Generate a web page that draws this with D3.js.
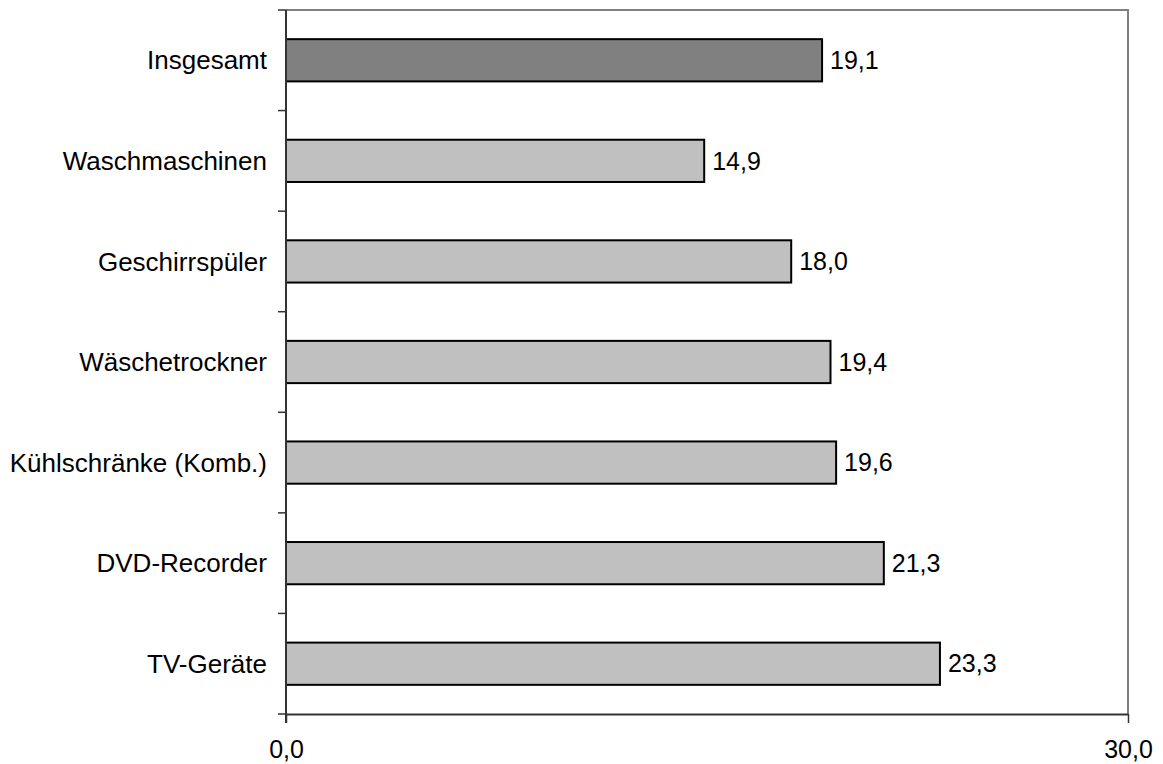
<!DOCTYPE html>
<html>
<head>
<meta charset="utf-8">
<script src="https://cdnjs.cloudflare.com/ajax/libs/d3/7.8.5/d3.min.js"></script>
<style>
  body { margin: 0; background: white; }
  svg { display: block; font-family: "Liberation Sans", Arial, sans-serif; }
</style>
</head>
<body>
<main></main>
<script>
// values
const categories = ["Insgesamt", "Waschmaschinen", "Geschirrspüler", "Wäschetrockner",
  "Kühlschränke (Komb.)", "DVD-Recorder", "TV-Geräte"]
const values = [19.1, 14.9, 18.0, 19.4, 19.6, 21.3, 23.3]
const xTicks = [0, 30]

const svgWidth = 1163
const svgHeight = 764

const plotLeft = 286
const plotRight = 1128
const plotTop = 10
const plotBottom = 714
const fontSize = "25px"

const fmt = d => d.toFixed(1).replace(".", ",")

let svg = d3.select("main")
  .append("svg")
  .attr("width", svgWidth)
  .attr("height", svgHeight)

let xScale = d3.scaleLinear()
  .domain([0, 30])
  .range([plotLeft, plotRight])

let yScale = d3.scaleBand()
  .domain(categories)
  .range([plotTop, plotBottom])
  .paddingInner(0.58)
  .paddingOuter(0.29)

// top and right border of plot area
svg.append("path")
  .attr("d", `M${plotLeft},${plotTop}H${plotRight}V${plotBottom}`)
  .attr("fill", "none")
  .attr("stroke", "#808080")
  .attr("stroke-width", 2)

// bars
svg.append("g")
  .selectAll("rect")
  .data(values)
  .enter()
  .append("rect")
  .attr("x", xScale(0))
  .attr("y", (d, i) => yScale(categories[i]))
  .attr("width", d => xScale(d) - xScale(0))
  .attr("height", yScale.bandwidth())
  .attr("fill", (d, i) => i === 0 ? "#808080" : "#c0c0c0")
  .attr("stroke", "black")
  .attr("stroke-width", 2)

// value labels
svg.append("g")
  .selectAll("text")
  .data(values)
  .enter()
  .append("text")
  .attr("x", d => xScale(d) + 8)
  .attr("y", (d, i) => yScale(categories[i]) + yScale.bandwidth() / 2)
  .attr("dy", "0.35em")
  .style("font-size", fontSize)
  .text(d => fmt(d))

// y axis: ticks at band boundaries
let bounds = d3.range(categories.length + 1)
  .map(i => plotTop + i * (plotBottom - plotTop) / categories.length)

let yAxis = svg.append("g")
yAxis.append("line")
  .attr("x1", plotLeft).attr("x2", plotLeft)
  .attr("y1", plotTop).attr("y2", plotBottom + 9)
  .attr("stroke", "#333")
  .attr("stroke-width", 2)
yAxis.selectAll(".tick")
  .data(bounds)
  .enter()
  .append("line")
  .attr("x1", plotLeft - 8).attr("x2", plotLeft)
  .attr("y1", d => d).attr("y2", d => d)
  .attr("stroke", "#333")
  .attr("stroke-width", 1.5)
yAxis.selectAll("text")
  .data(categories)
  .enter()
  .append("text")
  .attr("x", plotLeft - 19)
  .attr("y", d => yScale(d) + yScale.bandwidth() / 2)
  .attr("dy", "0.35em")
  .attr("text-anchor", "end")
  .style("font-size", "26px")
  .text(d => d)

// x axis
let bottomAxis = d3.axisBottom(xScale)
  .tickValues(xTicks)
  .tickSize(9)
  .tickSizeOuter(0)
  .tickPadding(17)
  .tickFormat(fmt)

let xAxis = svg.append("g")
  .attr("transform", `translate(0, ${plotBottom})`)
  .call(bottomAxis)

xAxis.select("path")
  .attr("stroke", "#333")
  .attr("stroke-width", 2)
xAxis.selectAll("line")
  .attr("stroke", "#333")
  .attr("stroke-width", 1.5)
xAxis.selectAll("text")
  .style("font-size", fontSize)
  .style("font-family", "Liberation Sans, Arial, sans-serif")
  .attr("fill", "black")
</script>
</body>
</html>
